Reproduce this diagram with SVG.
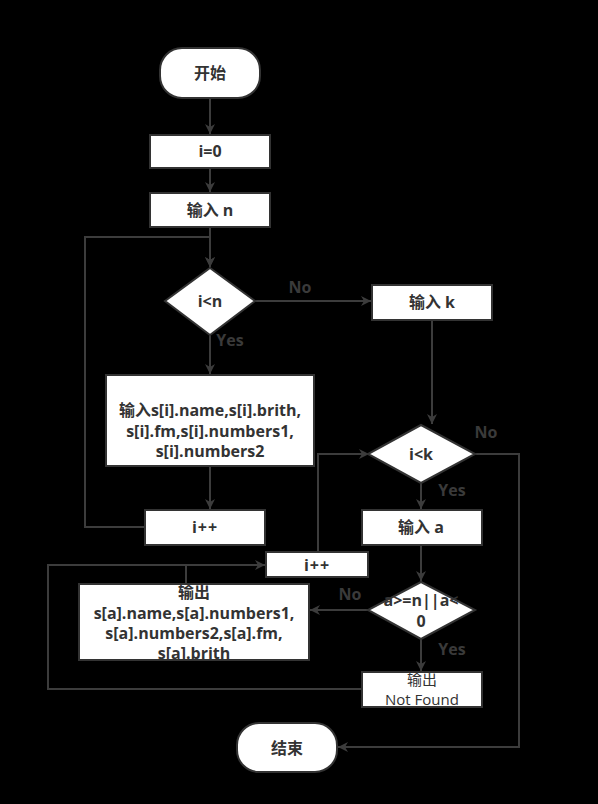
<svg xmlns="http://www.w3.org/2000/svg" width="598" height="804" viewBox="0 0 598 804">
<defs>
<marker id="ah" viewBox="0 0 10 10" refX="10" refY="5" markerWidth="10" markerHeight="10" markerUnits="userSpaceOnUse" orient="auto">
<path d="M0,0 L10,5 L0,10 L3,5 Z" fill="#3c3c3c"/>
</marker>
</defs>
<style>
.bg{fill:#000}
.n{fill:#fff;stroke:#333;stroke-width:2}
.t{font-family:"Open Sans","Noto Sans CJK SC",sans-serif;font-size:16px;font-weight:bold;fill:#333;text-anchor:middle;dominant-baseline:central}
.tn{font-weight:normal;font-size:15px}
.c{fill:none;stroke:#3c3c3c;stroke-width:2}
.a{marker-end:url(#ah)}
.l{font-family:"Open Sans","Noto Sans CJK SC",sans-serif;font-size:16px;font-weight:bold;fill:#3a3a3a;text-anchor:middle;dominant-baseline:central}
</style>
<rect class="bg" x="0" y="0" width="598" height="804"/>
<g id="connectors">
<path class="c a" d="M210,98 L210,134"/>
<path class="c a" d="M210,168 L210,192"/>
<path class="c a" d="M210,227 L210,267"/>
<path class="c a" d="M145,527 L85,527 L85,237 L210,237 L210,267"/>
<path class="c a" d="M255,301 L371,301"/>
<path class="c a" d="M210,334 L210,374"/>
<path class="c a" d="M210,466 L210,509"/>
<path class="c a" d="M432,320 L432,424"/>
<path class="c a" d="M475,454 L519,454 L519,747 L338,747"/>
<path class="c a" d="M421,483 L421,509"/>
<path class="c a" d="M421,545 L421,581"/>
<path class="c a" d="M368,610 L310,610"/>
<path class="c a" d="M421,639 L421,671"/>
<path class="c a" d="M362,689 L48,689 L48,565 L265,565"/>
<path class="c" d="M186,583 L186,565"/>
<path class="c a" d="M318,552 L318,454 L369,454"/>
<text class="l" x="300" y="287">No</text>
<text class="l" x="230" y="340">Yes</text>
<text class="l" x="486" y="432">No</text>
<text class="l" x="452" y="490">Yes</text>
<text class="l" x="350" y="594">No</text>
<text class="l" x="452" y="649">Yes</text>
</g>
<g id="start"><rect class="n" x="160" y="48" width="100" height="50" rx="22"/><text class="t" x="210" y="73">开始</text></g>
<g id="init"><rect class="n" x="150" y="135" width="120" height="33"/><text class="t" x="210" y="151">i=0</text></g>
<g id="inputN"><rect class="n" x="150" y="193" width="120" height="34"/><text class="t" x="210" y="210">输入 n</text></g>
<g id="condN"><polygon class="n" points="210,268 255,301 210,335 165,301"/><text class="t" x="210" y="301">i&lt;n</text></g>
<g id="inputK"><rect class="n" x="372" y="285" width="120" height="35"/><text class="t" x="432" y="302">输入 k</text></g>
<g id="inputS"><rect class="n" x="106" y="375" width="208" height="91"/>
<text class="t" x="210" y="410">输入s[i].name,s[i].brith,</text>
<text class="t" x="210" y="431">s[i].fm,s[i].numbers1,</text>
<text class="t" x="210" y="451">s[i].numbers2</text></g>
<g id="incI1"><rect class="n" x="145" y="510" width="120" height="35"/><text class="t" x="205" y="527" letter-spacing="1">i++</text></g>
<g id="condK"><polygon class="n" points="421,425 475,454 421,483 368,454"/><text class="t" x="421" y="454">i&lt;k</text></g>
<g id="inputA"><rect class="n" x="362" y="510" width="120" height="35"/><text class="t" x="421" y="527">输入 a</text></g>
<g id="condA"><polygon class="n" points="421,582 475,610 421,639 368,610"/>
<text class="t" x="421" y="600">a&gt;=n||a&lt;</text>
<text class="t" x="421" y="621">0</text></g>
<g id="incI2"><rect class="n" x="266" y="552" width="102" height="25"/><text class="t" x="317" y="565" letter-spacing="1">i++</text></g>
<g id="output"><rect class="n" x="79" y="584" width="230" height="76"/>
<text class="t" x="194" y="592">输出</text>
<text class="t" x="194" y="613">s[a].name,s[a].numbers1,</text>
<text class="t" x="194" y="633">s[a].numbers2,s[a].fm,</text>
<text class="t" x="194" y="653">s[a].brith</text></g>
<g id="notFound"><rect class="n" x="362" y="672" width="120" height="35"/>
<text class="t tn" x="422" y="679">输出</text>
<text class="t tn" x="422" y="699">Not Found</text></g>
<g id="end"><rect class="n" x="237" y="723" width="100" height="49" rx="22"/><text class="t" x="287" y="748">结束</text></g>
</svg>
